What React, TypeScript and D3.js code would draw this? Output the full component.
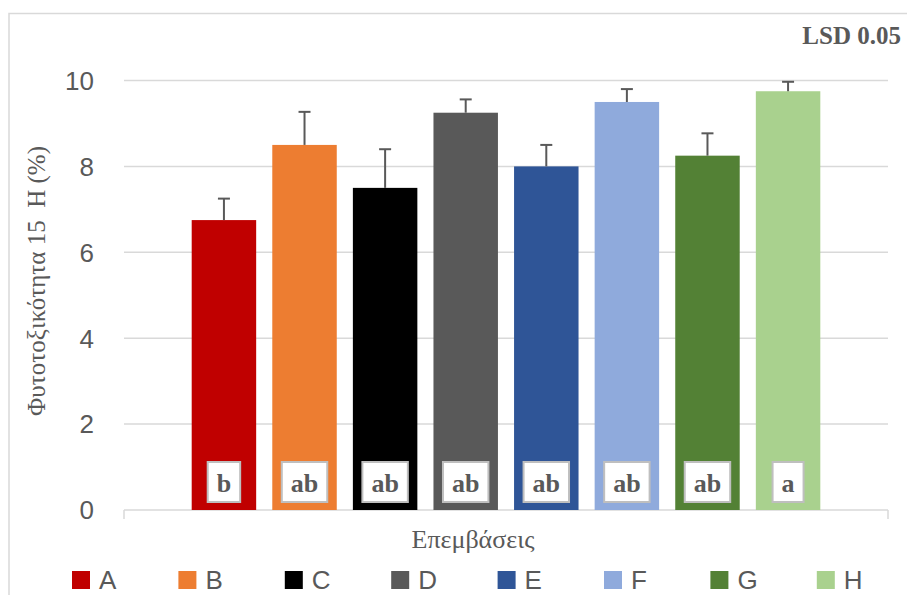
import React from "react";
import * as d3 from "d3";

// Treatments (one series each), means, error (+) values and significance letters
const treatments = ["A", "B", "C", "D", "E", "F", "G", "H"];
const means = [6.75, 8.5, 7.5, 9.25, 8.0, 9.5, 8.25, 9.75];
const errors = [0.5, 0.77, 0.9, 0.31, 0.5, 0.3, 0.52, 0.22];
const letters = ["b", "ab", "ab", "ab", "ab", "ab", "ab", "a"];
const colors = ["#C00000", "#ED7D31", "#000000", "#595959", "#2F5597", "#8FAADC", "#538135", "#A9D18E"];
const yTicks = [0, 2, 4, 6, 8, 10];

const W = 907;
const H = 595;
const plot = { left: 124, right: 888, top: 80.5, bottom: 510 };

const SANS = "'Liberation Sans', Arial, sans-serif";
const SERIF = "'Liberation Serif', 'Times New Roman', serif";
const TXT = "#595959";
const GRID = "#d9d9d9";

// rough advance widths (em) of the bold serif glyphs used in the letter boxes
const glyphW: Record<string, number> = { a: 0.5, b: 0.556 };

export default function App() {
  const x = d3
    .scaleBand<string>()
    .domain(treatments)
    .range([plot.left, plot.right])
    .paddingInner(0.2)
    .paddingOuter(0.84);
  const y = d3.scaleLinear().domain([0, 10]).range([plot.bottom, plot.top]);
  const bw = x.bandwidth();

  const legendStep = 106.4;
  const legendX0 = 72;

  return (
    <svg
      width={W}
      height={H}
      viewBox={`0 0 ${W} ${H}`}
      style={{ position: "absolute", left: 0, top: 0, background: "#fff" }}
    >
      <rect x={0} y={0} width={W} height={H} fill="#fff" />
      {/* chart frame */}
      <rect x={9} y={13.5} width={1200} height={1200} fill="none" stroke={GRID} strokeWidth={1.5} />

      {/* gridlines */}
      {yTicks.map((t) => (
        <line key={"g" + t} x1={plot.left} x2={plot.right} y1={y(t)} y2={y(t)} stroke={GRID} strokeWidth={1.5} />
      ))}
      {/* category axis with end ticks */}
      <line x1={plot.left} x2={plot.left} y1={plot.bottom} y2={plot.bottom + 9} stroke={GRID} strokeWidth={1.5} />
      <line x1={plot.right} x2={plot.right} y1={plot.bottom} y2={plot.bottom + 9} stroke={GRID} strokeWidth={1.5} />

      {/* y tick labels */}
      {yTicks.map((t) => (
        <text
          key={"t" + t}
          x={94}
          y={y(t)}
          dy="0.36em"
          textAnchor="end"
          fontFamily={SANS}
          fontSize={26}
          fill={TXT}
        >
          {t}
        </text>
      ))}

      {/* bars */}
      {treatments.map((k, i) => (
        <rect key={"b" + k} x={x(k)} y={y(means[i])} width={bw} height={y(0) - y(means[i])} fill={colors[i]} />
      ))}

      {/* error bars (plus direction only) */}
      {treatments.map((k, i) => {
        const cx = (x(k) as number) + bw / 2;
        const top = y(means[i] + errors[i]);
        return (
          <g key={"e" + k} stroke={TXT} strokeWidth={2}>
            <line x1={cx} x2={cx} y1={y(means[i])} y2={top} />
            <line x1={cx - 6} x2={cx + 6} y1={top} y2={top} />
          </g>
        );
      })}

      {/* significance letters */}
      {treatments.map((k, i) => {
        const cx = (x(k) as number) + bw / 2;
        const fs = 26;
        const tw = letters[i].split("").reduce((s, c) => s + (glyphW[c] ?? 0.5) * fs, 0);
        const boxW = tw + 18;
        return (
          <g key={"l" + k}>
            <rect x={cx - boxW / 2} y={462} width={boxW} height={40} fill="#fff" stroke="#bfbfbf" strokeWidth={2} />
            <text x={cx} y={492} textAnchor="middle" fontFamily={SERIF} fontWeight="bold" fontSize={fs} fill={TXT}>
              {letters[i]}
            </text>
          </g>
        );
      })}

      {/* LSD note */}
      <text x={901} y={44} textAnchor="end" fontFamily={SERIF} fontWeight="bold" fontSize={25} fill={TXT}>
        LSD 0.05
      </text>

      {/* axis titles */}
      <text
        transform={`translate(45, 281) rotate(-90)`}
        textAnchor="middle"
        fontFamily={SERIF}
        fontSize={25}
        fill={TXT}
        style={{ whiteSpace: "pre" }}
      >
        {"Φυτοτοξικότητα 15  Η (%)"}
      </text>
      <text x={473} y={548} textAnchor="middle" fontFamily={SERIF} fontSize={26} fill={TXT}>
        Επεμβάσεις
      </text>

      {/* legend */}
      {treatments.map((k, i) => {
        const lx = legendX0 + i * legendStep;
        return (
          <g key={"lg" + k}>
            <rect x={lx} y={571} width={18} height={18} fill={colors[i]} />
            <text x={lx + 27} y={589} fontFamily={SANS} fontSize={26} fill={TXT}>
              {k}
            </text>
          </g>
        );
      })}
    </svg>
  );
}
